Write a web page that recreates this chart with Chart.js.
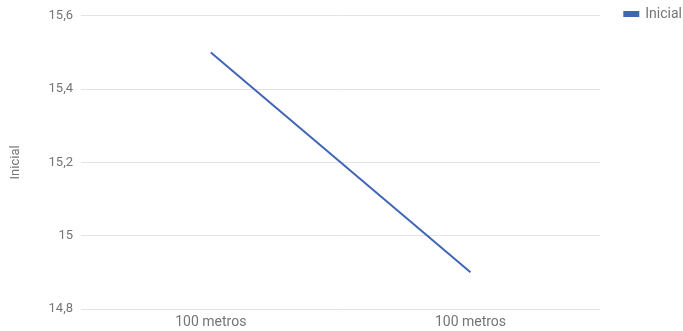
<!DOCTYPE html>
<html>
<head>
<meta charset="utf-8">
<script src="https://cdn.jsdelivr.net/npm/chart.js@4/dist/chart.umd.min.js"></script>
<style>
  html, body { margin: 0; padding: 0; background: #fff; }
  #wrap { width: 683px; height: 331px; }
</style>
</head>
<body>
<div id="wrap"><canvas id="lineCanvas"></canvas></div>
<script>
    // dados
    var categories = ["100 metros", "100 metros"];
    var inicial = [15.5, 14.9];
    var yTicks = [14.8, 15, 15.2, 15.4, 15.6];

    var gray = '#757575';
    Chart.defaults.font.family = 'Roboto, "Noto Sans", sans-serif';
    Chart.defaults.font.size = 13;
    Chart.defaults.color = gray;

    // empurra a legenda um pouco para a direita / para cima
    var legendShift = {
        id: 'legendShift',
        afterLayout: function (chart) {
            var lg = chart.legend;
            lg.left += 9; lg.right += 9;
            lg.top -= 21; lg.bottom -= 21;
        }
    };

    window.onload = function () {
        var ctx = document.getElementById("lineCanvas").getContext("2d");
        window.myLine = new Chart(ctx, {
            type: 'line',
            data: {
                labels: categories,
                datasets: [{
                    label: 'Inicial',
                    data: inicial,
                    borderColor: '#4065b5',
                    backgroundColor: '#4065b5',
                    borderWidth: 2,
                    pointRadius: 0,
                    tension: 0
                }]
            },
            plugins: [legendShift],
            options: {
                responsive: true,
                maintainAspectRatio: false,
                animation: false,
                layout: { padding: { top: 13, left: 0, right: 0, bottom: 0 } },
                plugins: {
                    tooltip: { enabled: false },
                    legend: {
                        position: 'right',
                        align: 'start',
                        labels: {
                            boxWidth: 14,
                            boxHeight: 4,
                            padding: 15,
                            color: gray,
                            font: { size: 14 }
                        }
                    }
                },
                scales: {
                    x: {
                        offset: true,
                        grid: { display: false, drawTicks: false },
                        border: { display: false },
                        ticks: { padding: 5, color: gray, font: { size: 14 } },
                        afterFit: function (axis) { axis.height = 22; }
                    },
                    y: {
                        min: 14.8,
                        max: 15.6,
                        afterBuildTicks: function (axis) {
                            axis.ticks = yTicks.map(function (v) { return { value: v }; });
                        },
                        afterFit: function (axis) { axis.width = 81; },
                        grid: { color: '#e3e3e3', drawTicks: false, lineWidth: 1 },
                        border: { display: false },
                        title: { display: true, text: 'Inicial', color: gray, font: { size: 13 }, padding: { top: 8, bottom: 0 } },
                        ticks: {
                            padding: 8,
                            color: gray,
                            callback: function (v) {
                                return String(Number(v.toFixed(1))).replace('.', ',');
                            }
                        }
                    }
                }
            }
        });
    };
</script>
</body>
</html>
